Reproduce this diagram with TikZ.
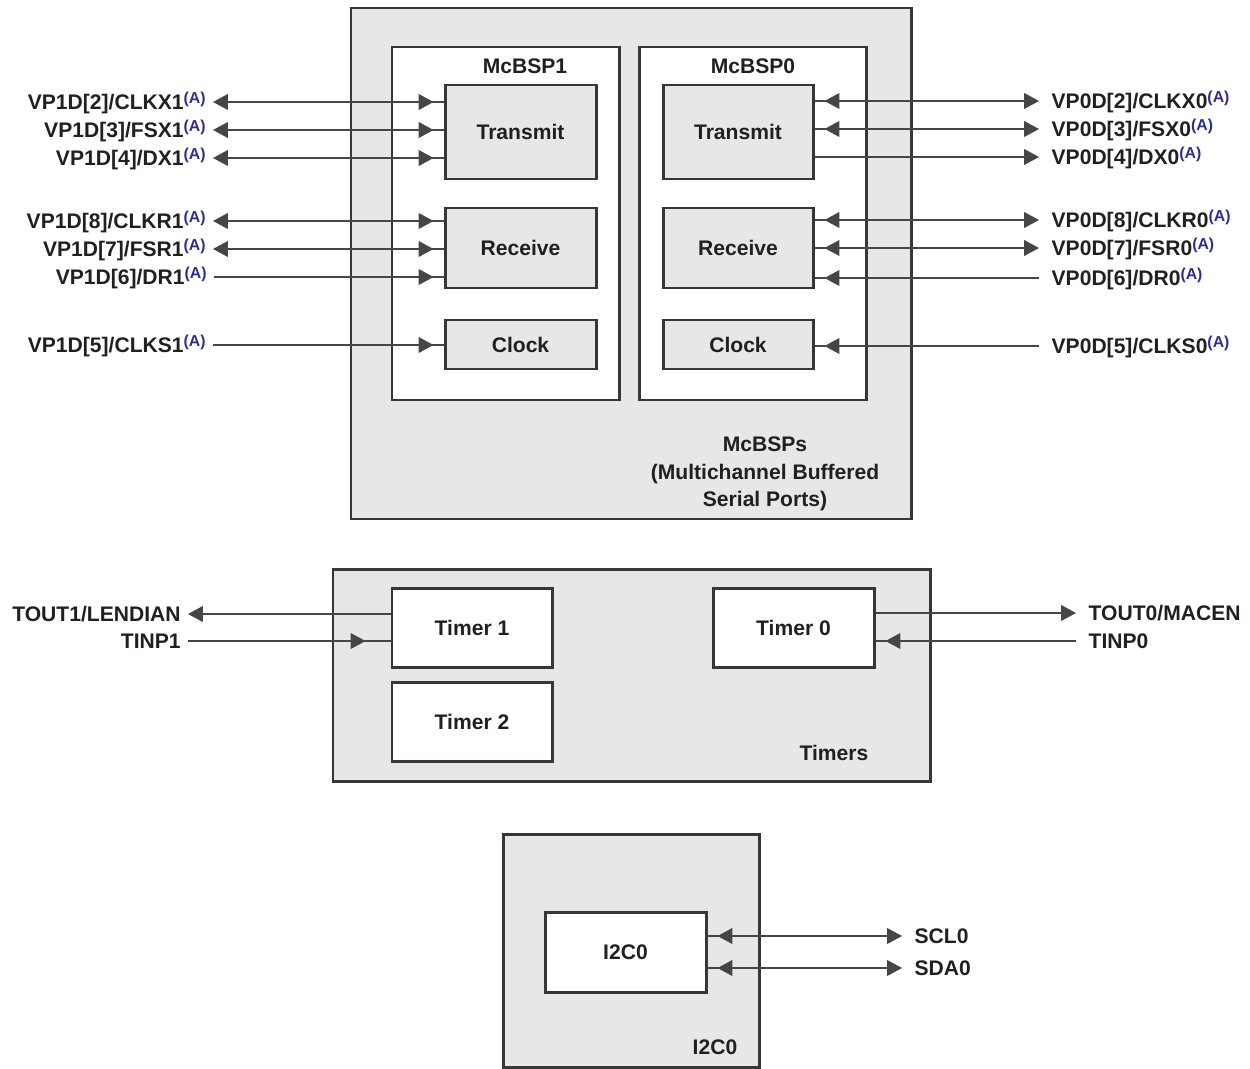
\documentclass[tikz,border=0pt]{standalone}
\usepackage{fontspec}
\setmainfont{Liberation Sans}
\usetikzlibrary{arrows.meta}
\usetikzlibrary{decorations.markings}
\usetikzlibrary{positioning}
\usetikzlibrary{fit}

\definecolor{modfill}{RGB}{230,231,232}
\definecolor{edge}{RGB}{55,55,57}
\definecolor{wire}{RGB}{70,70,72}
\definecolor{ink}{RGB}{35,31,32}
\definecolor{noteblue}{RGB}{46,46,140}

\newcommand\pinfont{\fontsize{12}{15.5}\selectfont\bfseries}
\newcommand\noteA{\textcolor{noteblue}{\fontsize{9}{9}\selectfont\raisebox{3.4pt}{(A)}}}

\tikzset{
  % grey module frame
  module/.style = {
    draw = edge,
    line width = 1.7pt,
    fill = modfill,
    inner sep = 0pt
  },
  % white sub block
  unit/.style = {
    module,
    fill = white
  },
  % grey function box
  func/.style = {
    module
  },
  caption/.style = {
    font = \pinfont,
    text = ink,
    inner sep = 0pt,
    align = center
  },
  % box name, centred in the box
  named/.style = {
    label = {[caption]center:#1}
  },
  % pin names, centred on the cap height
  pin/.style = {
    caption,
    inner xsep = 4pt,
    text height = 8.6pt,
    text depth = 0pt
  },
  pin right/.style = {
    pin,
    inner xsep = 7pt
  },
  sig/.style = {
    color = wire,
    line width = 0.8pt
  },
  % arrow a little before the box edge
  box tip/.style = {
    postaction = {
      decorate,
      decoration = {markings, mark=at position -#1 with {\arrow{>}}}
    }
  },
  box tip/.default = 0.2cm,
  box tip rev/.style = {
    postaction = {
      decorate,
      decoration = {markings, mark=at position #1 with {\arrowreversed{>}}}
    }
  },
  box tip rev/.default = 0.2cm,
  >={Triangle[length=8.5pt,width=9pt]}
}

\begin{document}
\begin{tikzpicture}[x=0.02cm, y=-0.02cm]
    \useasboundingbox (0,0) rectangle (1250,1068);

    % McBSPs
    \node[module, fit={(351,8) (911,519)}] (mcbsp) {};
    \node[unit, fit={(392,47) (619,400)}] (mcbsp1) {};
    \node[unit, fit={(639,47) (866,400)}] (mcbsp0) {};
    \node[caption] (mcbsp1 title) at (525,66) {McBSP1};
    \node[caption] (mcbsp0 title) at (753,66) {McBSP0};
    \node[caption] (mcbsp title) at (765,474) {McBSPs\\(Multichannel Buffered\\Serial Ports)};

    \node[func, fit={(445,85) (596,179)}, named=Transmit] (tx1) {};
    \node[func, fit={(445,208) (596,288)}, named=Receive] (rx1) {};
    \node[func, fit={(445,320) (596,369)}, named=Clock] (ck1) {};

    \node[func, fit={(663,85) (813,179)}, named=Transmit] (tx0) {};
    \node[func, fit={(663,208) (813,288)}, named=Receive] (rx0) {};
    \node[func, fit={(663,320) (813,369)}, named=Clock] (ck0) {};

    \node[pin, anchor=east] (clkx1) at (213,102) {VP1D[2]/CLKX1\noteA};
    \node[pin, anchor=east] (fsx1) at (213,130) {VP1D[3]/FSX1\noteA};
    \node[pin, anchor=east] (dx1) at (213,158) {VP1D[4]/DX1\noteA};
    \node[pin, anchor=east] (clkr1) at (213,221) {VP1D[8]/CLKR1\noteA};
    \node[pin, anchor=east] (fsr1) at (213,249) {VP1D[7]/FSR1\noteA};
    \node[pin, anchor=east] (dr1) at (214,277) {VP1D[6]/DR1\noteA};
    \node[pin, anchor=east] (clks1) at (213,345) {VP1D[5]/CLKS1\noteA};

    \node[pin right, anchor=west] (clkx0) at (1039,101) {VP0D[2]/CLKX0\noteA};
    \node[pin right, anchor=west] (fsx0) at (1039,129) {VP0D[3]/FSX0\noteA};
    \node[pin right, anchor=west] (dx0) at (1039,157) {VP0D[4]/DX0\noteA};
    \node[pin right, anchor=west] (clkr0) at (1039,220) {VP0D[8]/CLKR0\noteA};
    \node[pin right, anchor=west] (fsr0) at (1039,248) {VP0D[7]/FSR0\noteA};
    \node[pin right, anchor=west] (dr0) at (1039,278) {VP0D[6]/DR0\noteA};
    \node[pin right, anchor=west] (clks0) at (1039,346) {VP0D[5]/CLKS0\noteA};

    % McBSP1 pins
    \draw[sig, <-, box tip] (clkx1.east) -- (clkx1.east -| tx1.west);
    \draw[sig, <-, box tip] (fsx1.east) -- (fsx1.east -| tx1.west);
    \draw[sig, <-, box tip] (dx1.east) -- (dx1.east -| tx1.west);
    \draw[sig, <-, box tip] (clkr1.east) -- (clkr1.east -| rx1.west);
    \draw[sig, <-, box tip] (fsr1.east) -- (fsr1.east -| rx1.west);
    \draw[sig, box tip] (dr1.east) -- (dr1.east -| rx1.west);
    \draw[sig, box tip] (clks1.east) -- (clks1.east -| ck1.west);

    % McBSP0 pins
    \draw[sig, ->, box tip rev] (clkx0.west -| tx0.east) -- (clkx0.west);
    \draw[sig, ->, box tip rev] (fsx0.west -| tx0.east) -- (fsx0.west);
    \draw[sig, ->] (dx0.west -| tx0.east) -- (dx0.west);
    \draw[sig, ->, box tip rev] (clkr0.west -| rx0.east) -- (clkr0.west);
    \draw[sig, ->, box tip rev] (fsr0.west -| rx0.east) -- (fsr0.west);
    \draw[sig, box tip rev] (dr0.west -| rx0.east) -- (dr0.west);
    \draw[sig, box tip rev] (clks0.west -| ck0.east) -- (clks0.west);

    % Timers
    \node[module, fit={(333,569) (930,781)}] (timers) {};
    \node[unit, fit={(392,588) (552,667)}, named={Timer 1}] (timer1) {};
    \node[unit, fit={(392,682) (552,761)}, named={Timer 2}] (timer2) {};
    \node[unit, fit={(713,588) (874,667)}, named={Timer 0}] (timer0) {};
    \node[caption] (timers title) at (834,753) {Timers};

    \node[pin, anchor=east] (tout1) at (188,614) {TOUT1/LENDIAN};
    \node[pin, anchor=east] (tinp1) at (188,641) {TINP1};
    \node[pin right, anchor=west] (tout0) at (1076,613) {TOUT0/MACEN};
    \node[pin right, anchor=west] (tinp0) at (1076,641) {TINP0};

    \draw[sig, ->] (tout1.east -| timer1.west) -- (tout1.east);
    \draw[sig, box tip=0.5cm] (tinp1.east) -- (tinp1.east -| timer1.west);
    \draw[sig, ->] (tout0.west -| timer0.east) -- (tout0.west);
    \draw[sig, box tip rev] (tinp0.west -| timer0.east) -- (tinp0.west);

    % I2C0
    \node[module, fit={(503,834) (759,1067)}] (i2c) {};
    \node[unit, fit={(545,912) (706,992)}, named=I2C0] (i2c0) {};
    \node[caption] (i2c title) at (715,1047) {I2C0};

    \node[pin right, anchor=west] (scl0) at (902,936) {SCL0};
    \node[pin right, anchor=west] (sda0) at (902,968) {SDA0};

    \draw[sig, ->, box tip rev] (scl0.west -| i2c0.east) -- (scl0.west);
    \draw[sig, ->, box tip rev] (sda0.west -| i2c0.east) -- (sda0.west);
\end{tikzpicture}
\end{document}
